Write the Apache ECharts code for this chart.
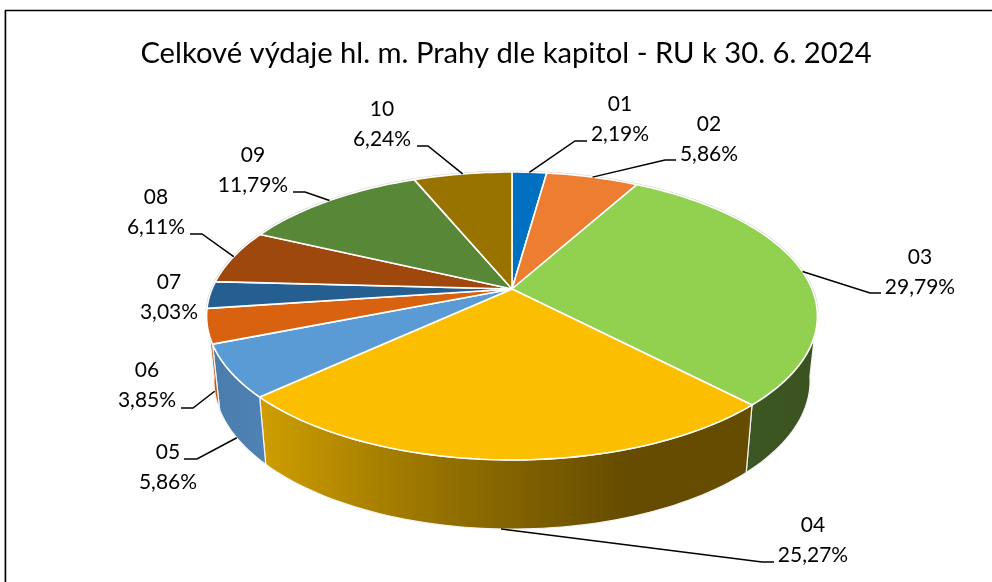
<!DOCTYPE html>
<html>
<head>
<meta charset="utf-8">
<style>html,body{margin:0;padding:0;background:#fff}#chart{width:992px;height:582px}</style>
<script src="https://cdn.jsdelivr.net/npm/echarts@6/dist/echarts.min.js"></script>
</head>
<body>
<div id="chart"></div>
<script>
const chartTitle = 'Celkové výdaje hl. m. Prahy dle kapitol - RU k 30. 6. 2024';
const categories = ['01','02','03','04','05','06','07','08','09','10'];
const shares = [2.19,5.86,29.79,25.27,5.86,3.85,3.03,6.11,11.79,6.24];

const faceColors = ['#0070c0','#ed7d31','#92d050','#fcbe00','#5b9bd5','#d86210','#255e91','#9e480e','#588737','#997300'];
const wallColors = {
  2: [[0,'#3d5723'],[1,'#3a5220']],
  3: [[0,'#cc9c00'],[0.5,'#937000'],[1,'#664c00']],
  4: [[0,'#4a7cac'],[1,'#4f82b5']],
  5: [[0,'#c55a11'],[1,'#c55a11']]
};
const wallSpan = {2:[750,810],3:[266,625],4:[212,265],5:[208,218]};

// label centre, then leader elbow and end
const labelLayout = [
  {c:[620,119], e:[[575,141],[587,141]]},
  {c:[709,139], e:[[665,160],[676,160]]},
  {c:[920,272], e:[[870,293],[881,293]]},
  {c:[813,540], e:[[762,562],[774,562]]},
  {c:[168,467], e:[[197,459],[184,459]]},
  {c:[147,385], e:[[193,408],[181,408]]},
  {c:[169,297], e:null},
  {c:[156,212], e:[[202,234],[190,234]]},
  {c:[253,170], e:[[305,192],[293,192]]},
  {c:[382,124], e:[[428,146],[417,146]]}
];

// Perspective disc model
const apex = [512,289], A = 300, B = 138.9, K = 0.1875;
const LOW = {sx:0.976, sy:1.03, y0:353};
const VIS = [99,261];
const FONT = 'Lato';
const total = shares.reduce((a,b)=>a+b,0);

function angles(i){
  let s = 0;
  for (let k=0;k<i;k++) s += shares[k];
  return [s/total*360,(s+shares[i])/total*360];
}
function rim(deg){
  const t = deg*Math.PI/180, w = 1+K*Math.cos(t);
  return [A*Math.sin(t)/w, -B*Math.cos(t)/w];
}
function topPt(deg){ const p = rim(deg); return [apex[0]+p[0],apex[1]+p[1]]; }
function lowPt(deg){ const p = rim(deg); return [apex[0]+LOW.sx*p[0],LOW.y0+LOW.sy*p[1]]; }
function arc(fn,a,b){
  const n = Math.max(2,Math.ceil(Math.abs(b-a)/1.5)), out = [];
  for (let j=0;j<=n;j++) out.push(fn(a+(b-a)*j/n));
  return out;
}
function wallFill(i){
  const c = wallColors[i], sp = wallSpan[i];
  if (!c) return faceColors[i];
  return new echarts.graphic.LinearGradient(sp[0],0,sp[1],0,c.map(s=>({offset:s[0],color:s[1]})),true);
}

function renderWall(params, api){
  const i = api.value(0), a = angles(i), kids = [];
  [[a[0],Math.min(a[1],VIS[0])],[Math.max(a[0],VIS[1]),a[1]]].forEach(r=>{
    if (r[1]>r[0]) kids.push({type:'polyline',shape:{points:arc(topPt,r[0],r[1])},
      style:{fill:null,stroke:'#cfcfcf',lineWidth:2.6}});
  });
  const s = Math.max(a[0],VIS[0]), e = Math.min(a[1],VIS[1]);
  if (e>s){
    const pts = arc(topPt,s,e).concat(arc(lowPt,e,s));
    kids.push({type:'polygon',shape:{points:pts},
      style:{fill:wallFill(i),stroke:'#f4f4f4',lineWidth:1.2,lineJoin:'round'}});
  }
  return {type:'group',children:kids};
}
function renderFace(params, api){
  const i = api.value(0), a = angles(i);
  return {type:'polygon',shape:{points:[apex].concat(arc(topPt,a[0],a[1]))},
    style:{fill:faceColors[i],stroke:'#fff',lineWidth:1.6,lineJoin:'round'}};
}
function renderLabel(params, api){
  const i = api.value(0), v = api.value(1), a = angles(i), L = labelLayout[i], kids = [];
  const mid = (a[0]+a[1])/2;
  if (L.e){
    const start = (mid>VIS[0] && mid<VIS[1]) ? lowPt(mid) : topPt(mid);
    kids.push({type:'polyline',shape:{points:[start].concat(L.e)},
      style:{fill:null,stroke:'#000',lineWidth:1.5}});
  }
  kids.push({type:'text',x:L.c[0],y:L.c[1],style:{
    text:categories[i]+'\n'+v.toFixed(2).replace('.',',')+'%',
    fontFamily:FONT,fontSize:21,lineHeight:29.5,fill:'#000',align:'center',verticalAlign:'middle'}});
  return {type:'group',children:kids};
}

const seriesData = shares.map((v,i)=>[i,v]);
const chart = echarts.init(document.getElementById('chart'),null,{renderer:'canvas'});
chart.setOption({
  animation:false,
  backgroundColor:'#fff',
  title:{text:chartTitle,left:501,top:34,textAlign:'center',
    textStyle:{fontFamily:FONT,fontSize:29.2,fontWeight:'normal',color:'#000'}},
  graphic:[
    {type:'line',shape:{x1:4.5,y1:10,x2:4.5,y2:582},style:{stroke:'#c8c8c8',lineWidth:1}},
    {type:'line',shape:{x1:5.5,y1:10.5,x2:5.5,y2:582},style:{stroke:'#000',lineWidth:1.5}},
    {type:'line',shape:{x1:5,y1:10.5,x2:992,y2:10.5},style:{stroke:'#000',lineWidth:1.5}}
  ],
  series:[
    {type:'custom',name:'walls',coordinateSystem:'none',renderItem:renderWall,data:seriesData,silent:true,z:1},
    {type:'custom',name:'faces',coordinateSystem:'none',renderItem:renderFace,data:seriesData,silent:true,z:2},
    {type:'custom',name:'labels',coordinateSystem:'none',renderItem:renderLabel,data:seriesData,silent:true,z:3}
  ]
});
</script>
</body>
</html>
